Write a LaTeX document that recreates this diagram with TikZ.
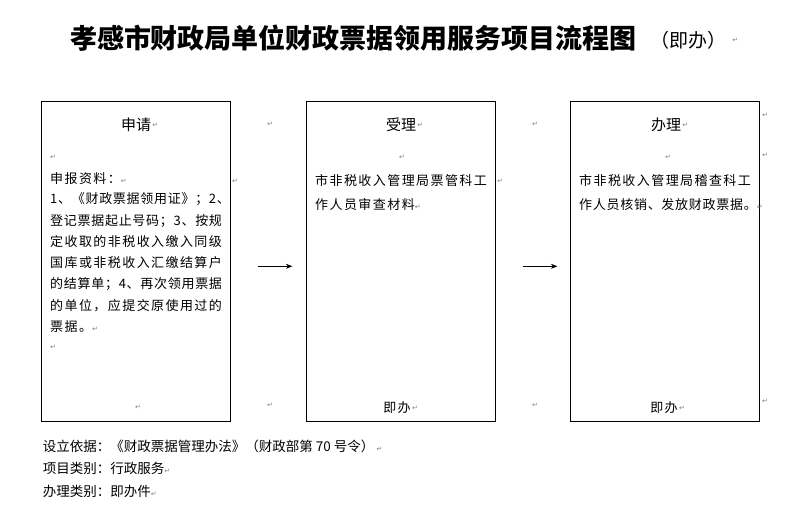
\documentclass[tikz,border=0pt]{standalone}
\usepackage{fontspec}
\newfontfamily\cjk{Noto Sans CJK SC}
\newfontfamily\cjkbody{Noto Sans CJK SC}[LetterSpace=11]
\newfontfamily\cjktight{Noto Sans CJK SC}[LetterSpace=5.5]
\newfontfamily\markfont{DejaVu Sans}
\usetikzlibrary{positioning, arrows.meta}
\newcommand{\retmark}{{\markfont\fontsize{7}{7}\selectfont\textcolor{gray}{↵}}}
\tikzset{
    stagebox/.style={draw, line width=0.8pt, minimum width=189pt, minimum height=320pt, inner sep=0pt},
    head/.style={inner sep=0pt, font=\cjk\fontsize{15}{15}\selectfont},
    body/.style={anchor=west, inner sep=0pt, font=\cjkbody\fontsize{13}{13}\selectfont},
    bodytight/.style={body, font=\cjktight\fontsize{13}{13}\selectfont},
    foot/.style={anchor=west, inner sep=0pt, font=\cjk\fontsize{13.5}{13.5}\selectfont},
    pmark/.style={inner sep=0pt, text=gray, font=\markfont\fontsize{7}{7}\selectfont},
    flow/.style={line width=0.8pt, -{Stealth[length=6.5pt, width=5pt]}}
}

\begin{document}
\begin{tikzpicture}[x=1pt, y=-1pt]
            \useasboundingbox (0,0) rectangle (809,513);
            % title
            \node[inner sep=0pt, font=\cjk\bfseries\fontsize{27}{27}\selectfont] (title) at (353.5,38) {孝感市财政局单位财政票据领用服务项目流程图};
            \node[inner sep=0pt, font=\cjk\fontsize{19}{19}\selectfont] (titlenote) at (688,40) {（即办）};
            \node[pmark, right=6pt of titlenote] {↵};
            % stages
            \node[stagebox] (apply) at (135.8,261.3) {};
            \node[stagebox] (accept) at (400.8,261.3) {};
            \node[stagebox] (handle) at (665,261.3) {};
            \node[head] (applyhead) at (136,125) {申请};
            \node[head] (accepthead) at (401,125) {受理};
            \node[head] (handlehead) at (666,125) {办理};
            \foreach \h in {applyhead, accepthead, handlehead}
                \node[pmark, right=1pt of \h] {↵};
            % apply text
            \foreach \t/\s [count=\i from 0] in {\retmark/body, 申报资料：\retmark/body, 1、《财政票据领用证》；2、/bodytight,
                    登记票据起止号码；3、按规/bodytight, 定收取的非税收入缴入同级/body, 国库或非税收入汇缴结算户/body,
                    的结算单；4、再次领用票据/bodytight, 的单位，应提交原使用过的/body, 票据。\retmark/body, \retmark/body}
                \node[\s] (applyline\i) at (50,{157+21.2*\i}) {\t};
            \node[pmark] at (138,407) {↵};
            % accept text
            \node[pmark] at (402,157) {↵};
            \node[body] (acceptline1) at (315,181) {市非税收入管理局票管科工};
            \node[body] (acceptline2) at (315,205) {作人员审查材料\retmark};
            \node[head, font=\cjkbody\fontsize{13}{13}\selectfont] (acceptnow) at (397,408) {即办};
            \node[pmark, right=1pt of acceptnow] {↵};
            % handle text
            \node[pmark] at (668,157) {↵};
            \node[body] (handleline1) at (579,181) {市非税收入管理局稽查科工};
            \node[bodytight] (handleline2) at (579,205) {作人员核销、发放财政票据。\retmark};
            \node[head, font=\cjkbody\fontsize{13}{13}\selectfont] (handlenow) at (664,408) {即办};
            \node[pmark, right=1pt of handlenow] {↵};
            % loose marks
            \node[pmark] at (270,124) {↵};
            \node[pmark] at (535,124) {↵};
            \node[pmark] at (235,181) {↵};
            \node[pmark] at (500,181) {↵};
            \node[pmark] at (270,405) {↵};
            \node[pmark] at (535,405) {↵};
            \node[pmark] at (765,115) {↵};
            \node[pmark] at (765,155) {↵};
            \node[pmark] at (765,401) {↵};
            % arrows
            \draw[flow, shorten <=27pt, shorten >=13.5pt] ([yshift=-5pt]apply.east) -- ([yshift=-5pt]accept.west);
            \draw[flow, shorten <=27pt, shorten >=12.7pt] ([yshift=-5pt]accept.east) -- ([yshift=-5pt]handle.west);
            % footer
            \node[foot] (basis) at (42.7,446) {设立依据：《财政票据管理办法》（财政部第 70 号令）\,\retmark};
            \node[foot] (kind) at (42.7,468) {项目类别：行政服务\retmark};
            \node[foot] (mode) at (42.7,491) {办理类别：即办件\retmark};
\end{tikzpicture}
\end{document}
